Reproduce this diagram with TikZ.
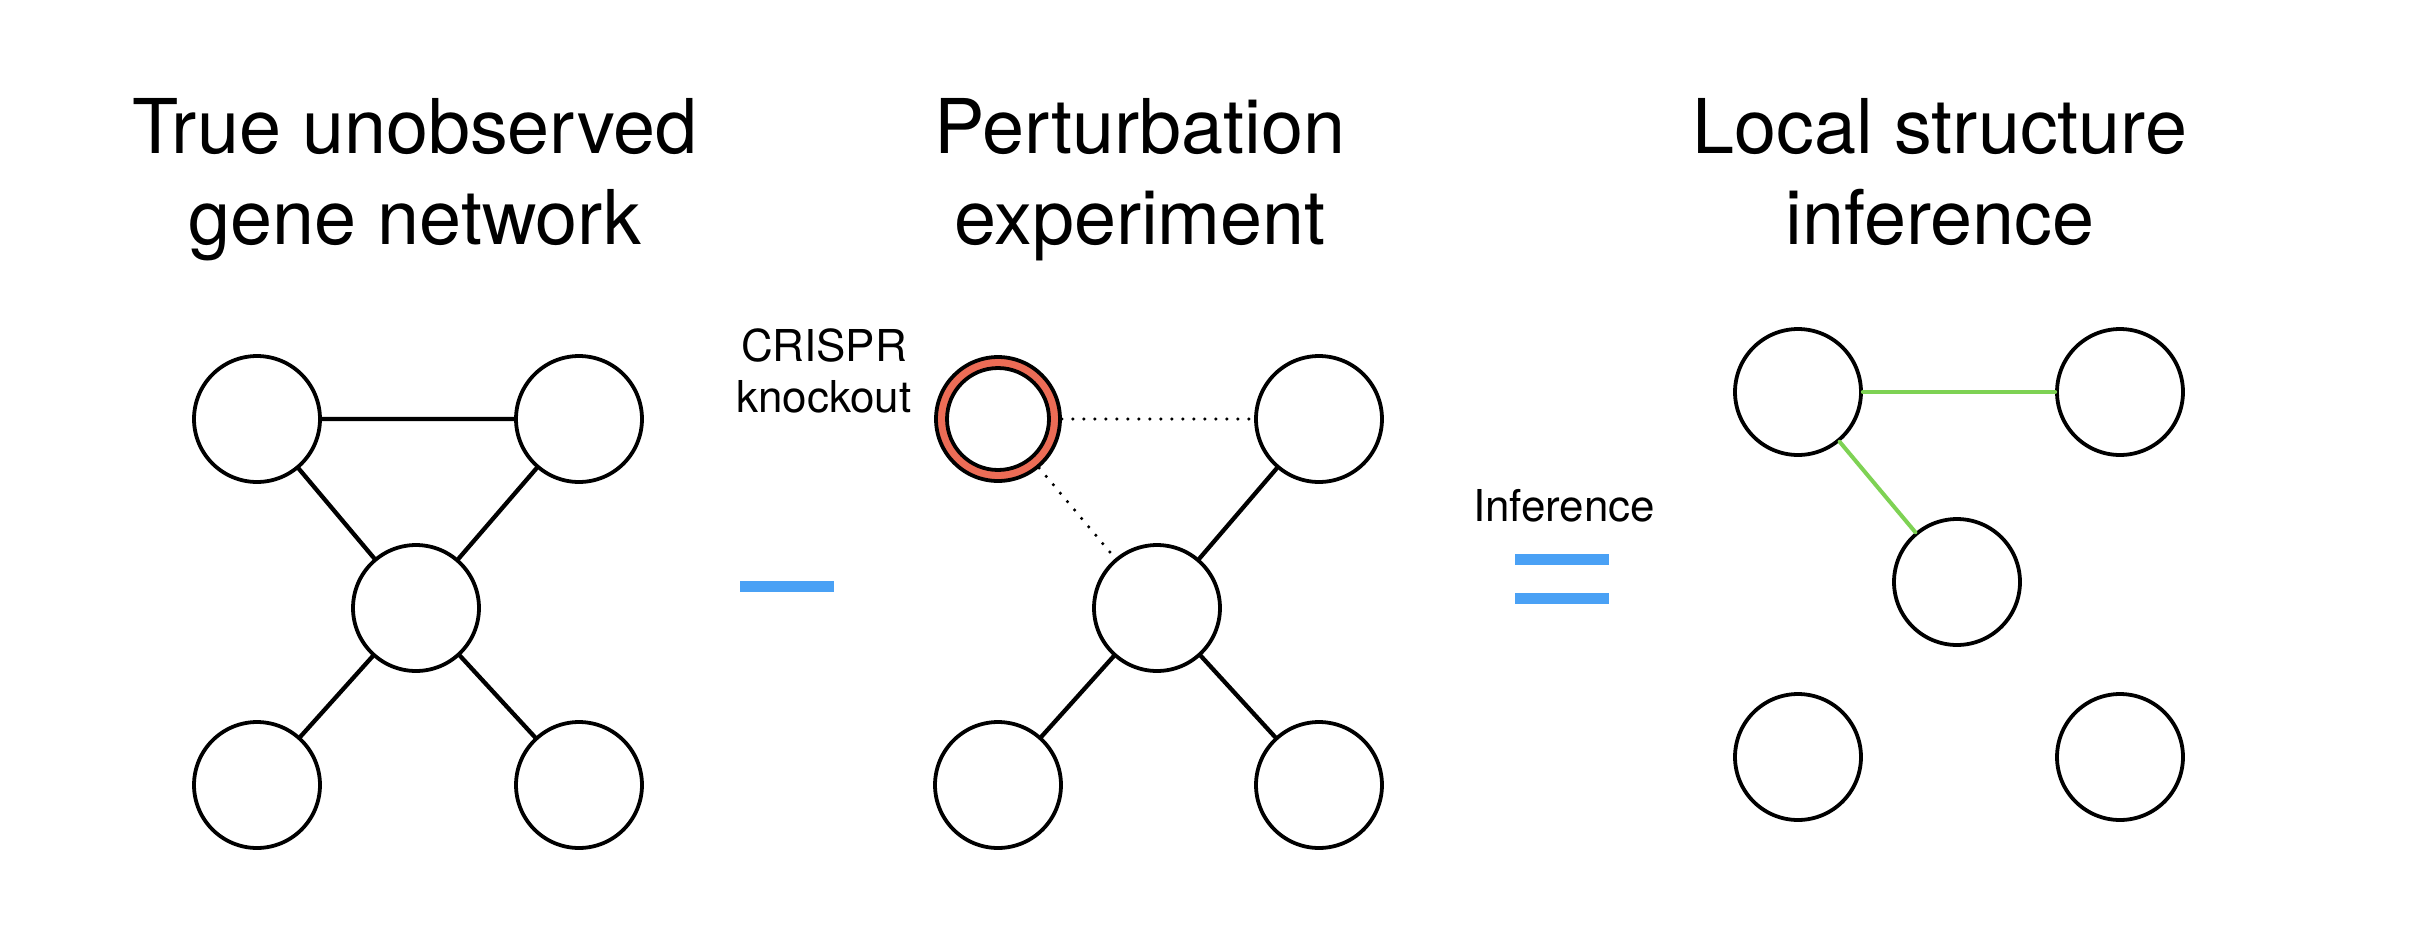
\documentclass[tikz,border=0pt]{standalone}
\usepackage{fontspec}
\setmainfont{TeX Gyre Heros}
\usetikzlibrary{positioning,calc}

\definecolor{knockred}{RGB}{236,108,86}
\definecolor{signblue}{RGB}{74,161,245}
\definecolor{edgegreen}{RGB}{126,210,84}

\begin{document}
\begin{tikzpicture}[
  x=0.02cm,
  y=-0.02cm,
  line cap=round,
  line join=round,
  gene/.style={circle, draw, fill=white, line width=0.76mm,
    minimum size=2.52cm, inner sep=0pt},
  link/.style={line width=0.86mm},
  cut/.style={line width=0.7mm, dash pattern=on 0pt off 2.2mm},
  found/.style={edgegreen, line width=0.8mm},
  title/.style={align=center, font=\fontsize{43}{51.6}\selectfont},
  note/.style={align=center, font=\fontsize{25}{28.9}\selectfont},
  bar/.style={fill=signblue, minimum width=1.88cm,
    minimum height=0.22cm, inner sep=0pt}
]

% Page frame, pixel units with y pointing down
\fill[white] (0,0) rectangle (2418,948);

% Column titles (base = last line)
\node[title, anchor=base] (head1) at (415,244) {True unobserved\\gene network};
\node[title, anchor=base] (head2) at (1140,244) {Perturbation\\experiment};
\node[title, anchor=base] (head3) at (1940,244) {Local structure\\inference};

% True network
\foreach \n/\x/\y in {t1/257/419, t2/579/419, t3/416/608,
                      t4/257/785, t5/579/785}{
  \node[gene] (\n) at (\x,\y) {};
}
\draw[link] (t1) -- (t2) (t1) -- (t3) (t2) -- (t3)
            (t3) -- (t4) (t3) -- (t5);

% Minus sign
\node[bar] (minus) at (787,586.5) {};

% Perturbed network, knocked-out gene as a red ring
\node[gene, fill=knockred, minimum size=2.48cm] (p1) at (998,419) {};
\node[gene, minimum size=2.04cm] (p1in) at (998,419) {};
\foreach \n/\x/\y in {p2/1319/419, p3/1157/608,
                      p4/998/785, p5/1319/785}{
  \node[gene] (\n) at (\x,\y) {};
}
\draw[cut] (p1) -- (p2);
\draw[cut] (p1) -- (p3);
\draw[link] (p2) -- (p3) (p3) -- (p4) (p3) -- (p5);

\node[note, anchor=base] (crispr) at (824,412.7) {CRISPR\\knockout};

% Equals sign
\node[note, anchor=base] (infer) at (1564,521) {Inference};
\node[bar] (eqtop) at (1561.5,559.5) {};
\node[bar] (eqbot) at (1561.5,598.5) {};

% Inferred local structure
\foreach \n/\x/\y in {i1/1798/392, i2/2120/392, i3/1957/582,
                      i4/1798/757, i5/2120/757}{
  \node[gene] (\n) at (\x,\y) {};
}
\draw[found] (i1) -- (i2);
\draw[found] (i1) -- (i3);

\end{tikzpicture}
\end{document}
